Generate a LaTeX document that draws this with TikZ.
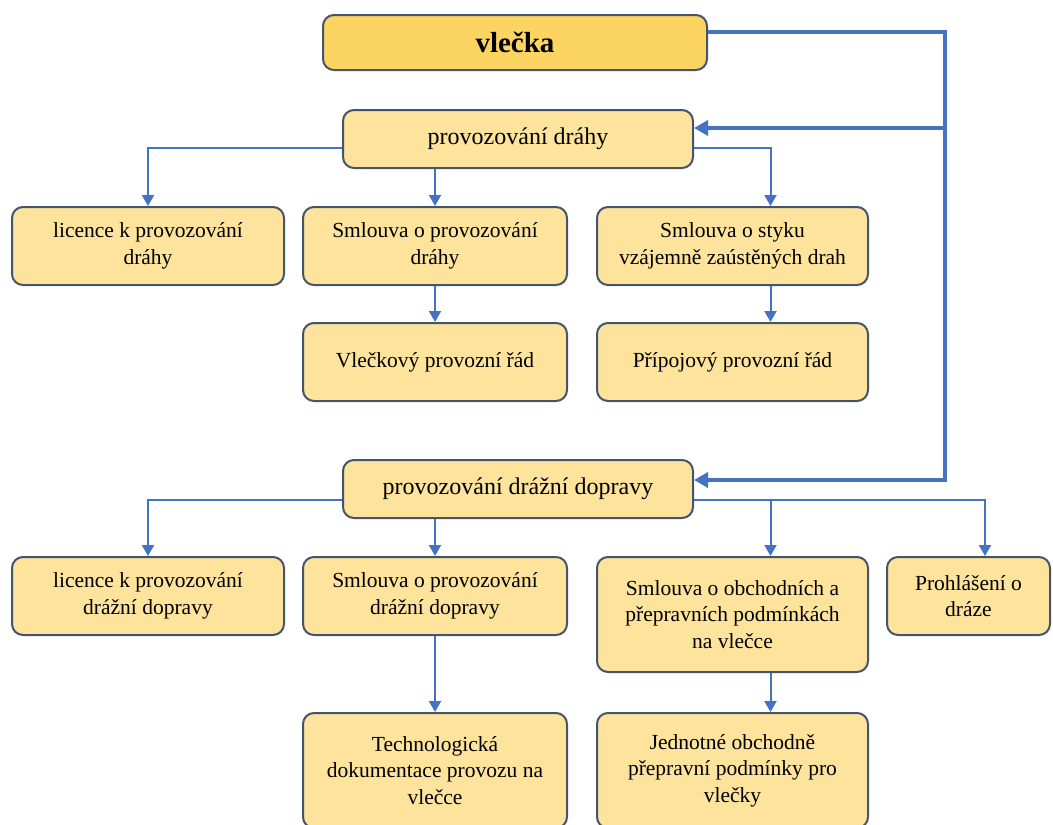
\documentclass[tikz,border=0pt]{standalone}
\usepackage{fontspec}
\setmainfont{Liberation Serif}
\usetikzlibrary{arrows.meta}

\definecolor{boxfill}{HTML}{FDE39C}
\definecolor{titlefill}{HTML}{FCD462}
\definecolor{boxline}{HTML}{44546A}
\definecolor{linkblue}{HTML}{4472C4}

\tikzset{
  box/.style={draw=boxline, line width=2pt, fill=boxfill, rounded corners=11pt,
    inner sep=0pt, align=center, font=\fontsize{21.5}{26.5}\selectfont},
  headbox/.style={box, font=\fontsize{24}{28}\selectfont},
  titlebox/.style={box, fill=titlefill, font=\fontsize{29}{33}\selectfont\bfseries},
  link/.style={draw=linkblue, line width=2pt, -{Triangle[length=11pt,width=12pt]}},
  bus/.style={draw=linkblue, line width=4pt},
}

\begin{document}
\begin{tikzpicture}[x=1pt, y=-1pt]
\useasboundingbox (0,0) rectangle (1053,825);

% Title
\node[titlebox, minimum width=384, minimum height=55] (vlecka) at (515,42.5) {vlečka};

% Railway operation
\node[headbox, minimum width=350, minimum height=58] (pd) at (518,139) {provozování dráhy};
\node[box, minimum width=272, minimum height=78] (lic1) at (148,246) {licence k provozování\\dráhy};
\node[box, minimum width=264, minimum height=78] (sml1) at (435,246) {Smlouva o provozování\\dráhy};
\node[box, minimum width=271, minimum height=78] (styk) at (732.5,246) {Smlouva o styku\\vzájemně zaústěných drah};
\node[box, minimum width=264, minimum height=78] (vpr) at (435,362) {Vlečkový provozní řád};
\node[box, minimum width=271, minimum height=78] (ppr) at (732.5,362) {Přípojový provozní řád};

% Rail transport operation
\node[headbox, minimum width=350, minimum height=58] (pdd) at (518,489) {provozování drážní dopravy};
\node[box, minimum width=272, minimum height=78] (lic2) at (148,596) {licence k provozování\\drážní dopravy};
\node[box, minimum width=264, minimum height=78] (sml2) at (435,596) {Smlouva o provozování\\drážní dopravy};
\node[box, minimum width=271, minimum height=115] (obch) at (732.5,614.5) {Smlouva o obchodních a\\přepravních podmínkách\\na vlečce};
\node[box, minimum width=163, minimum height=78] (prohl) at (968.5,596) {Prohlášení o\\dráze};
\node[box, minimum width=264, minimum height=115] (tech) at (435,770.5) {Technologická\\dokumentace provozu na\\vlečce};
\node[box, minimum width=271, minimum height=115] (jedn) at (732.5,770.5) {Jednotné obchodně\\přepravní podmínky pro\\vlečky};

% Bus on the right
\coordinate (bustop) at (945,32);
\coordinate (busmid) at (945,128);
\coordinate (busbot) at (945,480);
\draw[bus, -{Triangle[length=14pt,width=15pt]}] (vlecka.east |- bustop) -- (bustop) -- (busbot) -- (pdd.east |- busbot);
\draw[bus, -{Triangle[length=14pt,width=15pt]}] (busmid) -- (pd.east |- busmid);

% Branches from provozování dráhy
\coordinate (pdbr) at (0,148);
\draw[link] (pd.west |- pdbr) -| (lic1.north);
\draw[link] (pd.east |- pdbr) -| ([xshift=38pt]styk.north);
\draw[link] (sml1.north |- pd.south) -- (sml1.north);
\draw[link] (sml1.south) -- (vpr.north);
\draw[link] ([xshift=38pt]styk.south) -- ([xshift=38pt]ppr.north);

% Branches from provozování drážní dopravy
\coordinate (pddbr) at (0,500);
\draw[link] (pdd.west |- pddbr) -| (lic2.north);
\draw[link] (pdd.east |- pddbr) -| ([xshift=16.5pt]prohl.north);
\draw[link] ([xshift=38pt]obch.north |- pddbr) -- ([xshift=38pt]obch.north);
\draw[link] (sml2.north |- pdd.south) -- (sml2.north);
\draw[link] (sml2.south) -- (tech.north);
\draw[link] ([xshift=38pt]obch.south) -- ([xshift=38pt]jedn.north);

\end{tikzpicture}
\end{document}
